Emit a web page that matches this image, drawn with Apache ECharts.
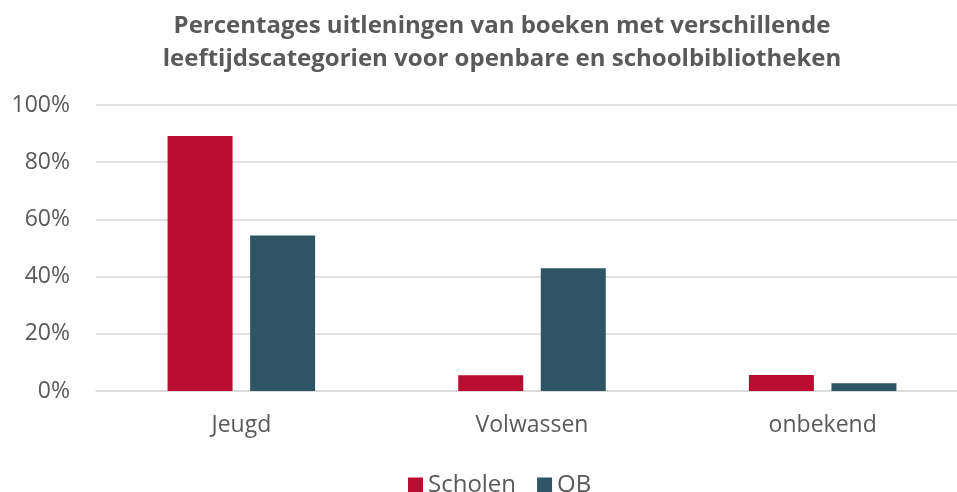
<!DOCTYPE html>
<html>
<head>
<meta charset="utf-8">
<script src="https://cdn.jsdelivr.net/npm/echarts@6/dist/echarts.min.js"></script>
<style>
  html, body { margin: 0; padding: 0; background: #fff; }
  #main { width: 957px; height: 492px; }
</style>
</head>
<body>
<div id="main"></div>
<script>
var categories = ['Jeugd', 'Volwassen', 'onbekend'];
var scholen = [89.2, 5.5, 5.6];
var ob = [54.4, 42.9, 2.7];

var chart = echarts.init(document.getElementById('main'));
var font = '"Open Sans", "Noto Sans", sans-serif';
var option = {
    animation: false,
    textStyle: { fontFamily: font },
    title: {
        text: 'Percentages uitleningen van boeken met verschillende\nleeftijdscategorien voor openbare en schoolbibliotheken',
        left: 497,
        textAlign: 'center',
        top: 5,
        textStyle: {
            fontFamily: font,
            fontSize: 24,
            fontWeight: 'bold',
            color: '#595959',
            lineHeight: 33
        }
    },
    legend: {
        data: ['Scholen', 'OB'],
        left: 403,
        top: 468,
        itemWidth: 15,
        itemHeight: 15,
        itemGap: 21,
        icon: 'rect',
        textStyle: { fontFamily: font, fontSize: 24, color: '#595959' }
    },
    grid: {
        left: 96,
        top: 105,
        width: 872,
        height: 286,
        containLabel: false,
        outerBoundsMode: 'none'
    },
    xAxis: {
        type: 'category',
        data: categories,
        axisLine: { lineStyle: { color: '#D9D9D9', width: 1.5 } },
        axisTick: { show: false },
        axisLabel: { fontFamily: font, fontSize: 23, color: '#595959', margin: 23 }
    },
    yAxis: {
        type: 'value',
        min: 0,
        max: 100,
        interval: 20,
        axisLine: { show: false },
        axisTick: { show: false },
        splitLine: { lineStyle: { color: '#D9D9D9', width: 1.5 } },
        axisLabel: {
            fontFamily: font,
            fontSize: 23,
            color: '#595959',
            margin: 26,
            formatter: '{value}%'
        }
    },
    series: [
        {
            name: 'Scholen',
            type: 'bar',
            data: scholen,
            barWidth: 65,
            barGap: '27%',
            itemStyle: { color: '#BA0C2F' }
        },
        {
            name: 'OB',
            type: 'bar',
            data: ob,
            barWidth: 65,
            itemStyle: { color: '#2F5565' }
        }
    ]
};
chart.setOption(option);
</script>
</body>
</html>
